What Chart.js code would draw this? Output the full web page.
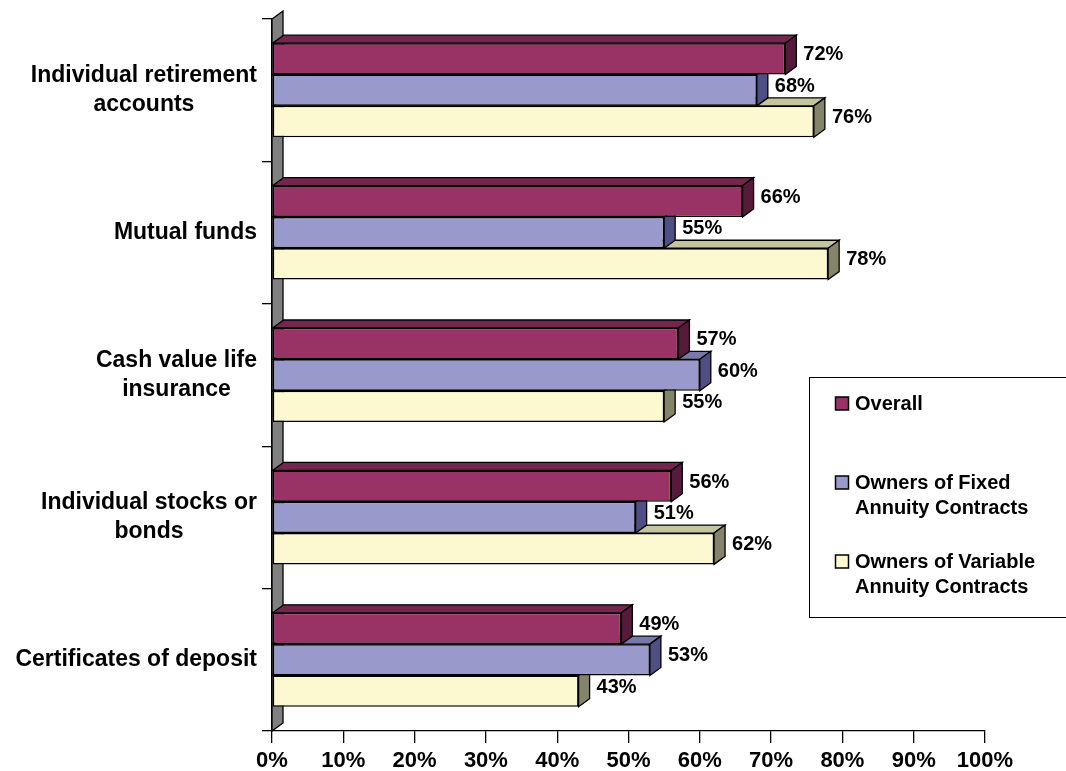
<!DOCTYPE html>
<html>
<head>
<meta charset="utf-8">
<script src="https://cdn.jsdelivr.net/npm/chart.js@4.4.1/dist/chart.umd.min.js"></script>
<style>
  html, body { margin: 0; padding: 0; background: #fff; }
  #wrap { width: 1066px; height: 771px; position: relative; }
</style>
</head>
<body>
<div id="wrap"><canvas id="chart" width="1066" height="771"></canvas></div>
<script>
var categorias = [
    ['Individual retirement', 'accounts'],
    ['Mutual funds'],
    ['Cash value life', 'insurance'],
    ['Individual stocks or', 'bonds'],
    ['Certificates of deposit']
];
var overall = [72, 66, 57, 56, 49];
var fixedOwners = [68, 55, 60, 51, 53];
var variableOwners = [76, 78, 55, 62, 43];
var xTicks = [0, 10, 20, 30, 40, 50, 60, 70, 80, 90, 100];

var series = [
    { label: 'Overall', data: overall, front: '#993366', top: '#74264f', side: '#561a3a' },
    { label: 'Owners of Fixed\nAnnuity Contracts', data: fixedOwners, front: '#9999cc', top: '#7878aa', side: '#4f4f86' },
    { label: 'Owners of Variable\nAnnuity Contracts', data: variableOwners, front: '#fcf8d0', top: '#c4c49e', side: '#84846a' }
];

var FONT = '"Liberation Sans", Arial, sans-serif';
var DX = 11, DY = 8;

function poly(ctx, pts, fill) {
    ctx.beginPath();
    ctx.moveTo(pts[0][0], pts[0][1]);
    for (var i = 1; i < pts.length; i++) ctx.lineTo(pts[i][0], pts[i][1]);
    ctx.closePath();
    ctx.fillStyle = fill;
    ctx.fill();
    ctx.strokeStyle = '#000';
    ctx.lineWidth = 1.3;
    ctx.stroke();
}

// wall + top/side faces of the bars, drawn before the front faces
var plugin3d = {
    id: 'plugin3d',
    beforeDatasetsDraw: function (chart) {
        var ctx = chart.ctx;
        var a = chart.chartArea;
        ctx.save();
        poly(ctx, [[a.left, a.bottom], [a.left + DX, a.bottom - DY], [a.left + DX, a.top - DY], [a.left, a.top]], '#808080');
        for (var i = 0; i < categorias.length; i++) {
            for (var d = series.length - 1; d >= 0; d--) {
                var bar = chart.getDatasetMeta(d).data[i];
                var p = bar.getProps(['x', 'y', 'base', 'height'], true);
                var t = p.y - p.height / 2, b = p.y + p.height / 2;
                poly(ctx, [[p.base, t], [p.x, t], [p.x + DX, t - DY], [p.base + DX, t - DY]], series[d].top);
                poly(ctx, [[p.x, t], [p.x + DX, t - DY], [p.x + DX, b - DY], [p.x, b]], series[d].side);
            }
        }
        ctx.restore();
    },
    afterDatasetsDraw: function (chart) {
        var ctx = chart.ctx;
        ctx.save();
        ctx.fillStyle = '#000';
        ctx.font = 'bold 20px ' + FONT;
        ctx.textAlign = 'left';
        ctx.textBaseline = 'middle';
        series.forEach(function (s, d) {
            chart.getDatasetMeta(d).data.forEach(function (bar, i) {
                var p = bar.getProps(['x', 'y'], true);
                ctx.fillText(s.data[i] + '%', p.x + DX + 7, p.y - DY / 2);
            });
        });

        // category labels: centered block, right aligned to the axis
        var yScale = chart.scales.y;
        ctx.font = 'bold 23px ' + FONT;
        ctx.textAlign = 'center';
        categorias.forEach(function (lines, i) {
            var cy = yScale.getPixelForValue(i);
            var w = 0;
            lines.forEach(function (l) { w = Math.max(w, ctx.measureText(l).width); });
            var cx = 257 - w / 2;
            var lh = 29;
            var y0 = cy - (lines.length - 1) * lh / 2;
            lines.forEach(function (l, k) { ctx.fillText(l, cx, y0 + k * lh); });
        });

        // legend
        ctx.strokeStyle = '#000';
        ctx.lineWidth = 1;
        ctx.strokeRect(809.5, 377.5, 300, 240);
        ctx.font = 'bold 20px ' + FONT;
        ctx.textAlign = 'left';
        var rows = [404, 483, 562];
        series.forEach(function (s, d) {
            ctx.fillStyle = s.front;
            ctx.fillRect(835.5, rows[d] - 7, 13, 13);
            ctx.lineWidth = 1.5;
            ctx.strokeRect(835.5, rows[d] - 7, 13, 13);
            ctx.fillStyle = '#000';
            s.label.split('\n').forEach(function (l, k) {
                ctx.fillText(l, 855, rows[d] + k * 25);
            });
        });
        ctx.restore();
    }
};

new Chart(document.getElementById('chart'), {
    type: 'bar',
    data: {
        labels: categorias,
        datasets: series.map(function (s) {
            return {
                label: s.label,
                data: s.data,
                backgroundColor: s.front,
                borderColor: '#000',
                borderWidth: 1.5,
                borderSkipped: false,
                categoryPercentage: 0.66,
                barPercentage: 1.0
            };
        })
    },
    options: {
        indexAxis: 'y',
        responsive: false,
        animation: false,
        layout: { padding: { top: 19, right: 81, left: 0, bottom: 0 } },
        plugins: {
            legend: { display: false },
            tooltip: { enabled: false }
        },
        scales: {
            x: {
                min: 0,
                max: 100,
                afterBuildTicks: function (s) { s.ticks = xTicks.map(function (v) { return { value: v }; }); },
                afterFit: function (s) { s.height = 40; },
                grid: { drawOnChartArea: false, drawTicks: true, tickLength: 12, color: '#000', lineWidth: 1.3 },
                border: { color: '#000', width: 1.3 },
                ticks: {
                    color: '#000',
                    padding: 5,
                    maxRotation: 0,
                    font: { family: FONT, size: 22, weight: 'bold' },
                    callback: function (v) { return v + '%'; }
                }
            },
            y: {
                afterFit: function (s) { s.width = 272; },
                grid: { drawOnChartArea: false, drawTicks: true, tickLength: 10, offset: true, color: '#000', lineWidth: 1.3 },
                border: { color: '#000', width: 1.3 },
                ticks: { display: false }
            }
        }
    },
    plugins: [plugin3d]
});
</script>
</body>
</html>
